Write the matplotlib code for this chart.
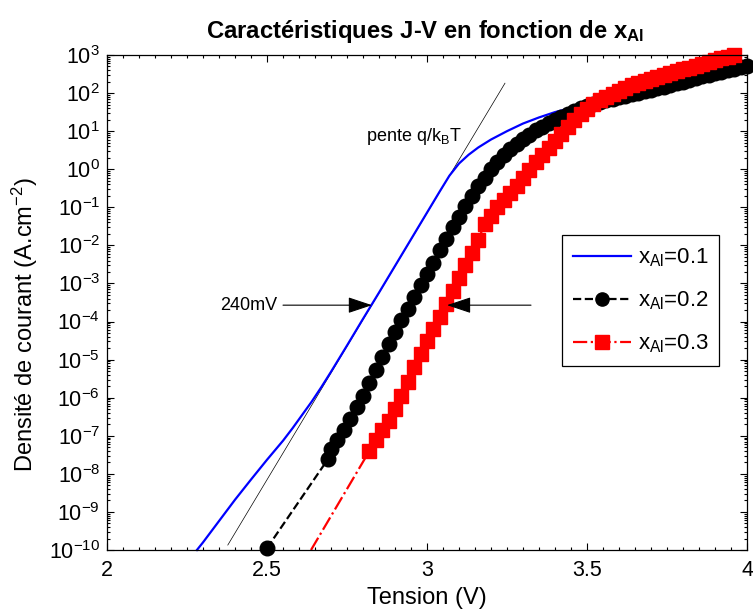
import numpy as np
import matplotlib
matplotlib.use('Agg')
import matplotlib.pyplot as plt
from matplotlib.lines import Line2D
from matplotlib.ticker import LogLocator, MultipleLocator, NullFormatter

plt.rcParams['font.family'] = ['Liberation Sans', 'DejaVu Sans']
plt.rcParams['mathtext.fontset'] = 'custom'
plt.rcParams['mathtext.rm'] = 'Liberation Sans'
plt.rcParams['mathtext.it'] = 'Liberation Sans:italic'
plt.rcParams['mathtext.bf'] = 'Liberation Sans:bold'

# x_Al = 0.1 (voltage in V, log10 of J in A/cm2)
v_01 = [2.281, 2.30, 2.35, 2.40, 2.45, 2.50, 2.55, 2.58, 2.61, 2.64, 2.67,
        2.70, 2.75, 2.80, 2.85, 2.90, 2.95, 3.00, 3.04, 3.07, 3.10, 3.13,
        3.16, 3.20, 3.25, 3.30, 3.35, 3.40, 3.45, 3.50, 3.60, 3.70, 3.80,
        3.90, 4.00]
logj_01 = [-10.0, -9.80, -9.24, -8.68, -8.15, -7.63, -7.13, -6.80, -6.45,
           -6.10, -5.72, -5.32, -4.63, -3.93, -3.24, -2.54, -1.84, -1.14,
           -0.58, -0.17, 0.15, 0.38, 0.57, 0.78, 1.00, 1.20, 1.36, 1.50,
           1.61, 1.70, 1.89, 2.09, 2.30, 2.52, 2.72]

# x_Al = 0.2
v_02 = [2.50, 2.69, 2.70, 2.72, 2.74, 2.76, 2.78, 2.80, 2.82, 2.84, 2.86,
        2.88, 2.90, 2.92, 2.94, 2.96, 2.98, 3.00, 3.02, 3.04, 3.06, 3.08,
        3.10, 3.12, 3.14, 3.16, 3.18, 3.20, 3.22, 3.24, 3.26, 3.28, 3.30,
        3.32, 3.34, 3.36, 3.38, 3.40, 3.42, 3.44, 3.46, 3.48, 3.50, 3.52,
        3.54, 3.56, 3.58, 3.60, 3.62, 3.64, 3.66, 3.68, 3.70, 3.72, 3.74,
        3.76, 3.78, 3.80, 3.82, 3.84, 3.86, 3.88, 3.90, 3.92, 3.94, 3.96,
        3.98, 4.00]
logj_02 = [-9.95, -7.62, -7.35, -7.10, -6.85, -6.55, -6.25, -5.95, -5.62,
           -5.28, -4.93, -4.59, -4.27, -3.96, -3.66, -3.36, -3.05, -2.76,
           -2.45, -2.13, -1.82, -1.53, -1.25, -0.97, -0.70, -0.45, -0.22,
           0.00, 0.20, 0.37, 0.52, 0.66, 0.79, 0.91, 1.02, 1.12, 1.21, 1.30,
           1.38, 1.46, 1.53, 1.60, 1.66, 1.72, 1.77, 1.81, 1.85, 1.89, 1.93,
           1.97, 2.01, 2.05, 2.09, 2.13, 2.17, 2.21, 2.26, 2.30, 2.35, 2.39,
           2.44, 2.48, 2.52, 2.56, 2.60, 2.64, 2.68, 2.72]

# x_Al = 0.3 (first point has no marker)
v_03 = [2.6375, 2.82, 2.84, 2.86, 2.88, 2.90, 2.92, 2.94, 2.96, 2.98, 3.00,
        3.02, 3.04, 3.06, 3.08, 3.10, 3.12, 3.14, 3.16, 3.18, 3.20, 3.22,
        3.24, 3.26, 3.28, 3.30, 3.32, 3.34, 3.36, 3.38, 3.40, 3.42, 3.44,
        3.46, 3.48, 3.50, 3.52, 3.54, 3.56, 3.58, 3.60, 3.62, 3.64, 3.66,
        3.68, 3.70, 3.72, 3.74, 3.76, 3.78, 3.80, 3.82, 3.84, 3.86, 3.88,
        3.90, 3.92, 3.94, 3.96]
logj_03 = [-10.0, -7.40, -7.10, -6.85, -6.60, -6.30, -5.95, -5.58, -5.20,
           -4.85, -4.52, -4.20, -3.88, -3.53, -3.19, -2.85, -2.51, -2.19,
           -1.85, -1.45, -1.22, -1.00, -0.80, -0.62, -0.43, -0.22, -0.02,
           0.18, 0.38, 0.56, 0.74, 0.93, 1.12, 1.30, 1.45, 1.58, 1.71, 1.81,
           1.90, 1.98, 2.06, 2.14, 2.20, 2.26, 2.32, 2.38, 2.43, 2.48, 2.53,
           2.57, 2.62, 2.66, 2.71, 2.76, 2.81, 2.86, 2.91, 2.95, 2.99]

# tangent "pente q/kBT"
v_slope = [2.3775, 3.2437]
logj_slope = [-9.87, 2.26]

# 240mV arrows
v_arrow_left = [2.55, 2.828]
v_arrow_right = [3.325, 3.0625]
logj_arrow = -3.57

labels = [r'x$_{\mathregular{Al}}$=0.1', r'x$_{\mathregular{Al}}$=0.2',
          r'x$_{\mathregular{Al}}$=0.3']

fig = plt.figure(figsize=(7.53, 6.14), dpi=100)
ax = fig.add_axes([107/753, 1-550/614, 640/753, 495/614])

ax.plot(v_slope, 10.0**np.array(logj_slope), color='k', lw=0.5)
ax.plot(v_01, 10.0**np.array(logj_01), color='#0000ff', lw=1.6, clip_on=False)
ax.plot(v_02, 10.0**np.array(logj_02), color='k', ls='--', lw=1.6,
        marker='o', ms=10.5, clip_on=False)
ax.plot(v_03, 10.0**np.array(logj_03), color='#ff0000', ls='-.', lw=1.6,
        marker='s', ms=10.5, markevery=slice(1, None), clip_on=False)

ax.set_yscale('log')
ax.set_xlim(2, 4)
ax.set_ylim(1e-10, 1e3)
ax.xaxis.set_major_locator(MultipleLocator(0.5))
ax.xaxis.set_minor_locator(MultipleLocator(0.05))
ax.xaxis.set_major_formatter(plt.FuncFormatter(lambda x, p: f'{x:g}'))
ax.yaxis.set_major_locator(LogLocator(base=10, numticks=30))
ax.yaxis.set_minor_locator(LogLocator(base=10, subs=np.arange(2, 10), numticks=30))
ax.yaxis.set_minor_formatter(NullFormatter())
ax.tick_params(which='both', direction='in', top=True, right=True, width=0.8)
ax.tick_params(which='major', length=5)
ax.tick_params(which='minor', length=2.5)
ax.tick_params(axis='x', labelsize=15.5, pad=7)
ax.tick_params(axis='y', labelsize=15.5, pad=5)
for s in ax.spines.values():
    s.set_linewidth(0.9)

ax.set_xlabel('Tension (V)', fontsize=17)
ax.xaxis.set_label_coords(0.5, -0.075)
ax.set_ylabel(r'Densité de courant (A.cm$^{\mathregular{-2}}$)', fontsize=17)
ax.yaxis.set_label_coords(-0.105, 0.455)

fig.text(0.565, 1-38/614, r'Caractéristiques J-V en fonction de x$_{\mathregular{Al}}$',
         ha='center', va='baseline', fontsize=17.2, fontweight='bold')

ja = 10.0**logj_arrow
arrow_kw = dict(arrowstyle='-|>,head_length=1.5,head_width=0.5', color='k',
                lw=0.8, shrinkA=0, shrinkB=0, mutation_scale=10)
ax.annotate('', xy=(v_arrow_left[1], ja), xytext=(v_arrow_left[0], ja),
            arrowprops=arrow_kw)
ax.annotate('', xy=(v_arrow_right[1], ja), xytext=(v_arrow_right[0], ja),
            arrowprops=arrow_kw)
ax.text(2.353, ja, '240mV', fontsize=13, va='center', ha='left')
ax.text(2.809, 10**0.85, r'pente q/k$_{\mathregular{B}}$T', fontsize=13,
        va='center', ha='left')

handles = [Line2D([], [], color='#0000ff', lw=1.6),
           Line2D([], [], color='k', ls='--', lw=1.6, marker='o', ms=9.5),
           Line2D([], [], color='#ff0000', ls='-.', lw=1.6, marker='s', ms=9.5)]
leg = ax.legend(handles, labels, loc='upper left', bbox_to_anchor=(0.711, 0.636),
                borderaxespad=0, fontsize=16, fancybox=False, framealpha=1,
                edgecolor='k', handlelength=2.6, labelspacing=0.92,
                handletextpad=0.3, borderpad=0.5)
leg.get_frame().set_linewidth(0.9)

fig.savefig('out.png', dpi=100)
